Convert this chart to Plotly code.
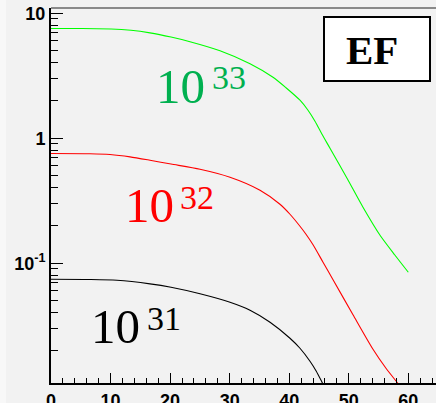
import plotly.graph_objects as go

# ---------------- data ----------------
x_1e33 = [0, 4.87, 10.08, 13.43, 16.62, 20.15, 23.34, 28.38, 33.42, 37.28, 39.46, 41.81, 43.16, 44.33,
          45.51, 46.85, 49.71, 52.39, 55.25, 57.77, 60]
y_1e33 = [7.545, 7.545, 7.49, 7.31, 6.97, 6.45, 5.92, 5.01, 3.945, 3.076, 2.535, 2.014, 1.675, 1.368,
          1.076, 0.832, 0.4786, 0.2805, 0.1675, 0.1159, 0.0847]

x_1e32 = [0, 6.55, 9.91, 13.27, 16.62, 20.15, 25.02, 30.06, 35.1, 38.45, 40.13, 41.81, 42.82, 44.0,
          45.68, 47.36, 50.71, 54.07, 56.25, 58.1, 58.6]
y_1e32 = [0.7545, 0.7516, 0.7406, 0.7099, 0.6668, 0.6216, 0.5649, 0.4875, 0.3837, 0.2965, 0.2466, 0.1977,
          0.1706, 0.1406, 0.1019, 0.0738, 0.0387, 0.0205, 0.01445, 0.01117, 0.01038]

x_1e31 = [0, 6.55, 11.08, 16.62, 20.15, 25.02, 30.06, 33.42, 36.78, 40.13, 41.81, 43.49, 44.5, 45.51, 45.85]
y_1e31 = [0.07447, 0.0742, 0.07311, 0.06843, 0.06427, 0.05702, 0.04875, 0.04207, 0.03373, 0.02512,
          0.02089, 0.01644, 0.0138, 0.01117, 0.01038]

series_exponents = ["33", "32", "31"]
line_colors = ["#00ff00", "#ff0000", "#000000"]
label_colors = ["#00b050", "#ff0000", "#000000"]

y_tickvals = [0.1, 1, 10]
y_ticktext = ["10<sup>-1</sup>", "1", "10"]
y_minor = [m * 10 ** e for e in (-2, -1, 0) for m in range(2, 10)]
x_tickvals = [0, 10, 20, 30, 40, 50, 60]
panel_label = "EF"

# ---------------- figure ----------------
W, H = 436, 403
L, R, T, B = 51, 0, 8, 20
PW, PH = W - L - R, H - T - B


def px(xp):
    return (xp - L) / PW


def py(yp):
    return (H - B - yp) / PH


fig = go.Figure()
for xs, ys, col, ex in zip([x_1e33, x_1e32, x_1e31], [y_1e33, y_1e32, y_1e31], line_colors, series_exponents):
    fig.add_trace(go.Scatter(x=xs, y=ys, mode="lines",
                             line=dict(color=col, width=1.1, shape="spline", smoothing=0.7),
                             name="10^" + ex, showlegend=False, hoverinfo="skip"))

# label positions (pixel) for the "10" part: left x, vertical center
label_pos = [(156.3, 86.5), (124.6, 205.5), (91.3, 326.7)]
annotations = []
for (lx, ly), ex, col in zip(label_pos, series_exponents, label_colors):
    annotations.append(dict(text="10", x=px(lx), y=py(ly), xref="paper", yref="paper",
                            xanchor="left", yanchor="middle", showarrow=False,
                            borderpad=0, borderwidth=0,
                            font=dict(family="Liberation Serif", size=49, color=col)))
    annotations.append(dict(text=ex, x=px(lx + 55.5), y=py(ly - 8.5), xref="paper", yref="paper",
                            xanchor="left", yanchor="middle", showarrow=False,
                            borderpad=0, borderwidth=0,
                            font=dict(family="Liberation Serif", size=34, color=col)))

annotations.append(dict(text="<b>" + panel_label + "</b>", x=px(371.5), y=py(49.5), xref="paper", yref="paper",
                        xanchor="center", yanchor="middle", showarrow=False, borderpad=0, borderwidth=0,
                        font=dict(family="Liberation Serif", size=41, color="black")))

shapes = [
    dict(type="rect", xref="paper", yref="paper", x0=px(324), x1=px(430), y0=py(17), y1=py(81),
         line=dict(color="black", width=2), fillcolor="white", layer="above"),
    dict(type="line", xref="paper", yref="paper", x0=0, x1=1, y0=1, y1=1,
         line=dict(color="#222222", width=1)),
    dict(type="rect", xref="paper", yref="paper", x0=px(0), x1=px(6), y0=py(H), y1=py(0),
         line=dict(width=0), fillcolor="#f8f8f8", layer="below"),
]

tickfont = dict(family="Liberation Sans", size=18, color="black", weight="bold")

fig.update_layout(
    width=W, height=H, template="none",
    margin=dict(l=L, r=R, t=T, b=B, pad=0),
    paper_bgcolor="#f2f2f2", plot_bgcolor="#f2f2f2",
    annotations=annotations, shapes=shapes,
    xaxis=dict(range=[0, 64.65], showline=True, linecolor="black", linewidth=2,
               ticks="inside", ticklen=10, tickwidth=1, tickcolor="black",
               tickmode="array", tickvals=x_tickvals,
               minor=dict(dtick=2, tick0=0, ticks="inside", ticklen=5, tickcolor="black", tickwidth=1, showgrid=False),
               showgrid=False, zeroline=False, tickfont=tickfont, automargin=False),
    yaxis=dict(type="log", range=[-1.958, 1.042], showline=True, linecolor="black", linewidth=2,
               ticks="inside", ticklen=12, tickwidth=1, tickcolor="black",
               tickmode="array", tickvals=y_tickvals, ticktext=y_ticktext,
               minor=dict(tickmode="array", tickvals=y_minor, ticks="inside", ticklen=7,
                          tickcolor="black", tickwidth=1, showgrid=False),
               showgrid=False, zeroline=False, tickfont=tickfont, automargin=False),
)

fig.write_html("out.html")
